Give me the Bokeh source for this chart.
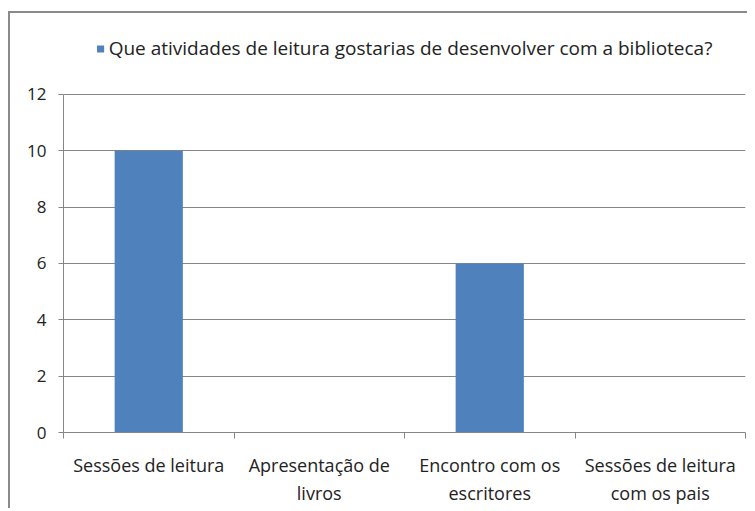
from bokeh.plotting import figure
from bokeh.models import Legend, LegendItem, FixedTicker, Range1d, ColumnDataSource
from bokeh.embed import file_html
from bokeh.resources import INLINE

categories = ["Sessões de leitura", "Apresentação de\nlivros", "Encontro com os\nescritores", "Sessões de leitura\ncom os pais"]
values = [10, 0, 6, 0]
series_name = "Que atividades de leitura gostarias de desenvolver com a biblioteca?"
y_ticks = [0, 2, 4, 6, 8, 10, 12]
y_max = 12

FONT = "Open Sans"
TEXT = "#222222"
GRID = "#868686"
BAR = "#4F81BD"

n = len(categories)
centers = [i + 0.5 for i in range(n)]
src = ColumnDataSource(dict(x=centers, top=values))

# extra headroom in the frame holds the legend above the plot area
headroom = 2.84
p = figure(frame_width=682, frame_height=418, output_backend="svg", toolbar_location=None,
           x_range=Range1d(0, n), y_range=Range1d(0, y_max + headroom),
           min_border_left=53, min_border_right=2, min_border_top=1, min_border_bottom=68)
p.margin = (11, 0, 0, 8)
p.styles = {"border-top": "2px solid #8a8a8a", "border-left": "2px solid #8a8a8a"}
p.outline_line_color = None
p.background_fill_color = "white"
p.border_fill_color = "white"

r = p.vbar(x="x", top="top", width=0.4, source=src, fill_color=BAR, line_color=None)

p.xgrid.visible = False
p.ygrid.ticker = FixedTicker(ticks=y_ticks)
p.ygrid.grid_line_color = GRID
p.ygrid.grid_line_width = 1
p.ygrid.bounds = (0, y_max)

yax = p.yaxis[0]
yax.ticker = FixedTicker(ticks=y_ticks)
yax.bounds = (0, y_max)
yax.axis_line_color = GRID
yax.major_tick_line_color = GRID
yax.major_tick_out = 5
yax.major_tick_in = 0
yax.minor_tick_line_color = None
yax.major_label_text_font = FONT
yax.major_label_text_font_size = "17px"
yax.major_label_text_color = TEXT
yax.major_label_standoff = 12

xax = p.xaxis[0]
xax.ticker = FixedTicker(ticks=centers, minor_ticks=list(range(n + 1)))
xax.major_label_overrides = {c: lab for c, lab in zip(centers, categories)}
xax.axis_line_color = GRID
xax.major_tick_line_color = None
xax.minor_tick_line_color = GRID
xax.minor_tick_out = 6
xax.minor_tick_in = 0
xax.major_label_text_font = FONT
xax.major_label_text_font_size = "18px"
xax.major_label_text_color = TEXT
xax.major_label_standoff = 14

legend = Legend(items=[LegendItem(label=series_name, renderers=[r])],
                location="top_center", orientation="horizontal",
                label_text_font=FONT, label_text_font_size="19px", label_text_color=TEXT,
                glyph_width=9, glyph_height=9, label_standoff=4,
                border_line_color=None, background_fill_alpha=0, padding=0, margin=21)
p.add_layout(legend, "center")

open("out.html", "w").write(file_html(p, INLINE))
